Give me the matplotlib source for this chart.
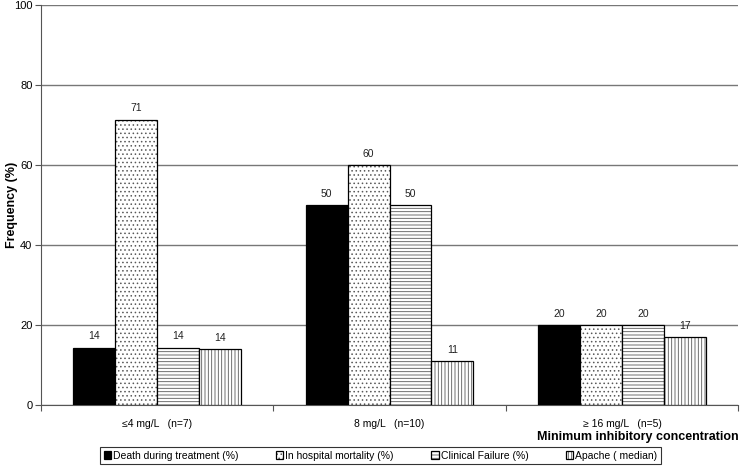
import matplotlib.pyplot as plt
import numpy as np

plt.rcParams['font.family'] = ['Liberation Sans', 'DejaVu Sans']
plt.rcParams['hatch.linewidth'] = 0.6

categories = ['≤4 mg/L   (n=7)', '8 mg/L   (n=10)', '≥ 16 mg/L   (n=5)']
series = ['Death during treatment (%)', 'In hospital mortality (%)',
          'Clinical Failure (%)', 'Apache ( median)']
death = [14.3, 50, 20]
mortality = [71.4, 60, 20]
failure = [14.3, 50, 20]
apache = [14, 11, 17]
values = [death, mortality, failure, apache]

colors = ['black', 'white', 'white', 'white']
hatches = [None, '....', '-----', '|||||']

fig = plt.figure(figsize=(7.42, 4.71), dpi=100)
ax = fig.add_axes([0.055, 0.14, 0.94, 0.849])

x = np.arange(len(categories))
w = 0.18
for i in range(4):
    pos = x + (i - 1.5) * w
    bars = ax.bar(pos, values[i], w, color=colors[i], edgecolor='black', linewidth=0.9,
                  hatch=hatches[i], label=series[i], zorder=3)
    for b in bars:
        b._hatch_color = (0.35, 0.35, 0.35, 1)
    for xx, v in zip(pos, values[i]):
        ax.text(xx, v + 1.6, f'{v:.0f}', ha='center', va='bottom', fontsize=7.5, color='#222222')

ax.set_xlim(-0.5, 2.5)
ax.set_ylim(0, 100)
ax.set_yticks(range(0, 101, 20))
ax.yaxis.grid(True, color='#777777', linewidth=1.0, zorder=0)
ax.set_xticks([-0.5, 0.5, 1.5, 2.5])
ax.set_xticklabels([])
ax.set_xticks(x, minor=True)
ax.set_xticklabels(categories, minor=True, fontsize=7.5)
ax.tick_params(axis='x', which='minor', length=0, pad=10)
ax.tick_params(axis='x', which='major', length=4, color='#555555')
ax.tick_params(axis='y', labelsize=8, length=4, pad=2, color='#555555')
for s in ['top', 'right']:
    ax.spines[s].set_visible(False)
for s in ['left', 'bottom']:
    ax.spines[s].set_color('#555555')
fig.text(0.016, 0.565, 'Frequency (%)', rotation=90, ha='center', va='center',
         fontsize=9, fontweight='bold')
fig.text(0.995, 0.072, 'Minimum inhibitory concentration', ha='right', va='center',
         fontsize=9, fontweight='bold')

leg = fig.legend(loc='lower center', bbox_to_anchor=(0.513, 0.003), ncol=4, fontsize=7.5,
                 frameon=True, fancybox=False, edgecolor='black', handlelength=0.7,
                 handleheight=0.7, handletextpad=0.2, columnspacing=3.6,
                 borderpad=0.35)
leg.get_frame().set_linewidth(0.8)

fig.savefig('out.png', dpi=100)
